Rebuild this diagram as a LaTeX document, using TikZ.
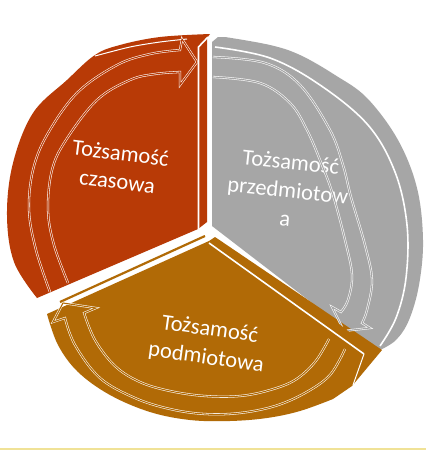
\documentclass[tikz,border=0pt]{standalone}
\usepackage{fontspec}
\setmainfont{Carlito}
\definecolor{redc}{RGB}{184,58,6}
\definecolor{grayc}{RGB}{166,166,166}
\definecolor{orc}{RGB}{177,106,6}
\definecolor{yelc}{RGB}{240,226,150}
\tikzset{
  edgeline/.style={white, line width=1.6pt},
  thinedge/.style={white, line width=1.0pt},
  arrowline/.style={draw=white, line width=0.55pt, double distance=1.1pt, line join=miter},
  lbl/.style={text=white, align=center, font=\fontsize{22.5}{28.5}\selectfont, inner sep=0pt},
}
\begin{document}
\begin{tikzpicture}[x=1pt,y=-1pt]
\useasboundingbox (0,0) rectangle (426,450);
\fill[white] (0,0) rectangle (426,450);

% ---------------- red segment ----------------
\fill[redc] plot[smooth, tension=0.6] coordinates {(210,34) (160,37) (120,45) (95,55) (67,80) (33,113) (13,163) (7,215) (14,262) (37,298)}
  -- (198,229) -- (207,222) -- (207,38) -- cycle;
\coordinate (rA) at (198.5,229);
\coordinate (rB) at (198.5,47);
\coordinate (rC) at (208,37);
\draw[edgeline] (rA) -- (rB) -- (rC);
\draw[thinedge] plot[smooth] coordinates {(95,56) (130,47) (160,42) (187,39)};

% ---------------- gray segment ----------------
\fill[grayc] (212,226) -- (212,42) -- (218,37) -- plot[smooth, tension=0.6] coordinates {(225,37) (270,45) (300,55) (335,75) (367,98) (398,140) (417,188) (423,240) (419,285) (409,320) (396,340) (380,350)} -- (372,349) -- cycle;
\draw[edgeline] plot[smooth, tension=0.6] coordinates {(215,47) (270,58) (320,85) (368,125) (395,172) (407,225) (406,278) (396,318) (380,346)};

% ---------------- orange segment ----------------
\fill[orc] (47,314) -- (209,241) -- (215,237) -- (382,350) -- (352,386) -- plot[smooth, tension=0.6] coordinates {(333,399) (300,411) (267,418) (230,421) (190,420) (150,412) (110,395) (78,372) (58,345) (47,314)};
\draw[edgeline] (209,243) -- (364,354);
\draw[thinedge] (364,354) -- (353,385);
\draw[orc, line width=2.2pt] (60,302) -- (205,236);

% ---------------- labels ----------------
\node[lbl, rotate=-7] (t1) at (119,167) {Tożsamość\\czasowa};
\node[lbl, rotate=-6] (t2) at (288,190) {Tożsamość\\przedmiotow\\a};
\node[lbl, rotate=-8] (t3) at (208,344) {Tożsamość\\podmiotowa};

% ---------------- circular arrows ----------------
\draw[arrowline, double=redc]
  plot[smooth, tension=0.6] coordinates {(50,292) (36,250) (29,210) (33,170) (47,135) (77,93) (117,65) (150,54) (180,50)}
  -- (182,39) -- (197,62) -- (180,85) --
  plot[smooth, tension=0.6] coordinates {(180,72) (155,74) (130,80) (97,100) (66,140) (52,170) (48,210) (54,245) (68,283)};

\begin{scope}
\clip (212,226) -- (212,42) -- (420,42) -- (420,349) -- (372,349) -- cycle;
\draw[arrowline, double=grayc]
  plot[smooth, tension=0.6] coordinates {(213,57) (265,63) (300,85) (330,130) (343,165) (351,197) (365,245) (372,280) (367,310) (362,323)}
  -- (370,328) -- (344,331) -- (332,307) --
  plot[smooth, tension=0.6] coordinates {(341,312) (348,300) (352,275) (345,240) (333,195) (322,165) (307,130) (290,103) (260,83) (213,77)};
\end{scope}

\draw[arrowline, double=orc]
  plot[smooth, tension=0.6] coordinates {(345,349) (330,375) (305,393) (275,406) (240,413) (205,414) (170,409) (135,398) (100,378) (75,345) (65,318)}
  -- (53,322) -- (63,303) -- (96,308) --
  plot[smooth, tension=0.6] coordinates {(84,313) (95,340) (115,366) (140,382) (170,391) (205,396) (240,396) (270,390) (295,380) (315,362) (329,339)};

% ---------------- bottom line ----------------
\fill[yelc] (0,447.5) rectangle (426,450);
\end{tikzpicture}
\end{document}
